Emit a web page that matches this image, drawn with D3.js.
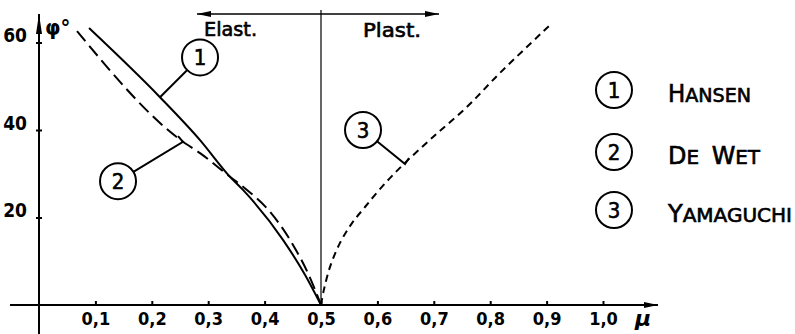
<!DOCTYPE html>
<html>
<head>
<meta charset="utf-8">
<script src="https://cdn.jsdelivr.net/npm/d3@7"></script>
<style>
  html, body { margin: 0; padding: 0; background: #fff; }
  svg { display: block; font-family: "DejaVu Sans", sans-serif; }
  .pen { stroke: #000; stroke-width: 0.6px; }
</style>
</head>
<body>
<svg id="chart" width="795" height="334"></svg>
<script>
// Friction angle φ (degrees) against Poisson ratio μ for three theories
const hansen = [
  [0.0887, 63.3], [0.2145, 47.5], [0.2855, 37.7], [0.3387, 29.3],
  [0.3617, 26.3], [0.4326, 14.9], [0.4716, 6.9], [0.5, 0]
];
const deWet = [
  [0.0674, 62.6], [0.2553, 37.3], [0.2855, 34.7], [0.3387, 29.3],
  [0.3688, 26.3], [0.4096, 21.3], [0.445, 14.9], [0.4823, 5.7], [0.5, 0]
];
const yamaguchi = [
  [0.5, 0], [0.505, 3.4], [0.516, 8.7], [0.5337, 14.2], [0.555, 18.7],
  [0.578, 22.4], [0.608, 27.0], [0.645, 32.0], [0.6986, 38.4],
  [0.759, 45.3], [0.817, 53.0], [0.906, 64.0]
];

const xTicks = [0.1, 0.2, 0.3, 0.4, 0.5, 0.6, 0.7, 0.8, 0.9, 1.0];
const xTickLabels = ["0,1", "0,2", "0,3", "0,4", "0,5", "0,6", "0,7", "0,8", "0,9", "1,0"];
const yTicks = [20, 40, 60];

const seriesNames = ["Hansen", "De Wet", "Yamaguchi"];
const seriesIds = ["1", "2", "3"];

// numbered callouts: circle centre, optional elbow, and the point on the curve the leader reaches
const callouts = [
  { id: "1", circle: [0.2855, 56.6], elbow: null,           tip: [0.2145, 47.5] },
  { id: "2", circle: [0.1401, 28.3], elbow: [0.2553, 37.3], tip: [0.2465, 38.6] },
  { id: "3", circle: [0.5745, 40.0], elbow: [0.649, 32.2],  tip: [0.656, 33.6] }
];

const condensed = "'DejaVu Sans Condensed', 'Liberation Sans Narrow', 'DejaVu Sans', sans-serif";

const svg = d3.select("#chart");
const x = d3.scaleLinear().domain([0, 1]).range([39, 603]);
const y = d3.scaleLinear().domain([0, 60]).range([305, 42.5]);

const defs = svg.append("defs");
function arrow(id, len, wid) {
  defs.append("marker")
    .attr("id", id).attr("viewBox", `0 0 ${len} ${wid}`)
    .attr("refX", len).attr("refY", wid / 2)
    .attr("markerWidth", len).attr("markerHeight", wid)
    .attr("markerUnits", "userSpaceOnUse")
    .attr("orient", "auto-start-reverse")
    .append("path").attr("d", `M0,0L${len},${wid / 2}L0,${wid}Z`).attr("fill", "#000");
}
arrow("arr", 14, 6);
arrow("arrY", 20, 6);

// axis lines with arrowheads
svg.append("line")
  .attr("x1", 10).attr("x2", 658).attr("y1", y(0)).attr("y2", y(0))
  .attr("stroke", "#000").attr("stroke-width", 2).attr("marker-end", "url(#arr)");
svg.append("line")
  .attr("x1", x(0)).attr("x2", x(0)).attr("y1", 334).attr("y2", 14)
  .attr("stroke", "#000").attr("stroke-width", 2).attr("marker-end", "url(#arrY)");

// x axis ticks and labels
const xAxis = d3.axisBottom(x)
  .tickValues(xTicks)
  .tickSizeInner(-5).tickSizeOuter(0).tickPadding(6)
  .tickFormat((d, i) => xTickLabels[i]);
const gx = svg.append("g").attr("transform", `translate(0,${y(0) + 1})`).call(xAxis);
gx.select(".domain").remove();
gx.selectAll(".tick line").attr("stroke", "#000").attr("stroke-width", 2);
gx.selectAll(".tick text")
  .attr("font-size", 18).attr("font-weight", "bold").attr("fill", "#000")
  .attr("font-family", condensed);

// y axis ticks and labels
const yAxis = d3.axisLeft(y).tickValues(yTicks).tickSizeInner(3).tickSizeOuter(0).tickPadding(9);
const gy = svg.append("g").attr("transform", `translate(${x(0)},0)`).call(yAxis);
gy.select(".domain").remove();
gy.selectAll(".tick line").attr("x2", 3).attr("x1", -3).attr("stroke", "#000").attr("stroke-width", 2);
gy.selectAll(".tick text")
  .attr("font-size", 19).attr("font-weight", "bold").attr("fill", "#000")
  .attr("dy", "-0.05em")
  .attr("font-family", condensed);

// axis titles
svg.append("text").attr("x", 45).attr("y", 35).attr("font-size", 22).attr("font-weight", "bold")
  .attr("font-family", condensed).text("φ°");
svg.append("text").attr("x", 643).attr("y", 326).attr("font-size", 22).attr("font-weight", "bold")
  .attr("text-anchor", "middle").attr("font-style", "italic").text("μ");

// elastic / plastic divider at μ = 0,5
svg.append("line")
  .attr("x1", x(0.5)).attr("x2", x(0.5)).attr("y1", 10).attr("y2", y(0))
  .attr("stroke", "#000").attr("stroke-width", 1.2);
svg.append("line")
  .attr("x1", x(0.5)).attr("x2", 197).attr("y1", 14).attr("y2", 14)
  .attr("stroke", "#000").attr("stroke-width", 1.5).attr("marker-end", "url(#arr)");
svg.append("line")
  .attr("x1", x(0.5)).attr("x2", 439).attr("y1", 14).attr("y2", 14)
  .attr("stroke", "#000").attr("stroke-width", 1.5).attr("marker-end", "url(#arr)");
svg.append("text").attr("class", "pen").attr("x", 204).attr("y", 36).attr("font-size", 20).attr("font-family", condensed)
  .attr("textLength", 53).attr("lengthAdjust", "spacingAndGlyphs").text("Elast.");
svg.append("text").attr("class", "pen").attr("x", 363).attr("y", 37).attr("font-size", 20).attr("font-family", condensed)
  .attr("textLength", 58).attr("lengthAdjust", "spacingAndGlyphs").text("Plast.");

// curves
const line = d3.line().x(d => x(d[0])).y(d => y(d[1])).curve(d3.curveMonotoneX);
svg.append("path").datum(hansen).attr("d", line)
  .attr("fill", "none").attr("stroke", "#000").attr("stroke-width", 2);
svg.append("path").datum(deWet).attr("d", line)
  .attr("fill", "none").attr("stroke", "#000").attr("stroke-width", 2)
  .attr("stroke-dasharray", "13,6");
const line3 = d3.line().x(d => x(d[0])).y(d => y(d[1])).curve(d3.curveCatmullRom);
svg.append("path").datum(yamaguchi).attr("d", line3)
  .attr("fill", "none").attr("stroke", "#000").attr("stroke-width", 2)
  .attr("stroke-dasharray", "7,5");

// numbered callouts with leaders
const R = 18;
callouts.forEach(c => {
  const cx = x(c.circle[0]), cy = y(c.circle[1]);
  const first = c.elbow ? c.elbow : c.tip;
  const ex = x(first[0]), ey = y(first[1]);
  const ang = Math.atan2(ey - cy, ex - cx);
  const pts = [[cx + R * Math.cos(ang), cy + R * Math.sin(ang)], [ex, ey]];
  if (c.elbow) pts.push([x(c.tip[0]), y(c.tip[1])]);
  svg.append("path").attr("d", d3.line()(pts))
    .attr("fill", "none").attr("stroke", "#000").attr("stroke-width", 2);
  svg.append("circle").attr("cx", cx).attr("cy", cy).attr("r", R)
    .attr("fill", "#fff").attr("stroke", "#000").attr("stroke-width", 2);
  svg.append("text").attr("class", "pen").attr("x", cx).attr("y", cy + 8).attr("text-anchor", "middle")
    .attr("font-size", 22).attr("font-family", condensed).text(c.id);
});

// legend
const legY = [90, 152, 210];
const legWidths = [83, 92, 124];
seriesNames.forEach((name, i) => {
  svg.append("circle").attr("cx", 614).attr("cy", legY[i]).attr("r", R)
    .attr("fill", "none").attr("stroke", "#000").attr("stroke-width", 2);
  svg.append("text").attr("class", "pen").attr("x", 614).attr("y", legY[i] + 8).attr("text-anchor", "middle")
    .attr("font-size", 22).attr("font-family", condensed).text(seriesIds[i]);
  const t = svg.append("text").attr("class", "pen").attr("x", 668).attr("y", legY[i] + 12)
    .attr("font-family", condensed)
    .attr("textLength", legWidths[i]).attr("lengthAdjust", "spacingAndGlyphs");
  name.split(" ").forEach((w, k) => {
    if (k > 0) t.append("tspan").attr("font-size", 20).text("\u00a0\u00a0");
    t.append("tspan").attr("font-size", 24).text(w[0].toUpperCase());
    t.append("tspan").attr("font-size", 20).text(w.slice(1).toUpperCase());
  });
});
</script>
</body>
</html>
